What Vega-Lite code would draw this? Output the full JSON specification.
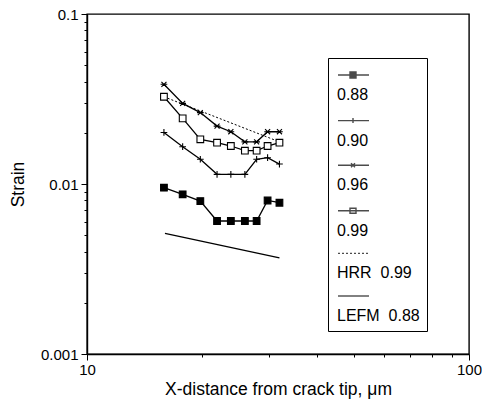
{
  "$schema": "https://vega.github.io/schema/vega-lite/v6.json",
  "width": 382,
  "height": 340,
  "autosize": "none",
  "padding": {"left": 87, "top": 14, "right": 13, "bottom": 45},
  "background": "white",
  "config": {
    "view": {"stroke": "black", "strokeWidth": 1.4},
    "font": "Liberation Sans",
    "axis": {
      "domainColor": "black", "domainWidth": 1.4, "tickColor": "black", "tickWidth": 1,
      "labelColor": "black", "titleColor": "black", "labelFont": "Liberation Sans", "titleFont": "Liberation Sans",
      "labelFontSize": 15, "titleFontSize": 17.5, "titleFontWeight": "normal", "grid": false
    }
  },
  "data": {"values": [
    {"series": "0.88", "x": 15.9, "y": 0.00951},
    {"series": "0.88", "x": 17.8, "y": 0.0087},
    {"series": "0.88", "x": 19.8, "y": 0.00794},
    {"series": "0.88", "x": 21.9, "y": 0.00606},
    {"series": "0.88", "x": 23.8, "y": 0.00606},
    {"series": "0.88", "x": 25.9, "y": 0.00606},
    {"series": "0.88", "x": 27.8, "y": 0.00606},
    {"series": "0.88", "x": 29.7, "y": 0.0080},
    {"series": "0.88", "x": 31.9, "y": 0.00776},
    {"series": "0.90", "x": 15.9, "y": 0.0201},
    {"series": "0.90", "x": 17.8, "y": 0.01657},
    {"series": "0.90", "x": 19.8, "y": 0.01398},
    {"series": "0.90", "x": 21.9, "y": 0.0114},
    {"series": "0.90", "x": 23.8, "y": 0.0114},
    {"series": "0.90", "x": 25.9, "y": 0.0114},
    {"series": "0.90", "x": 27.8, "y": 0.01398},
    {"series": "0.90", "x": 29.7, "y": 0.01428},
    {"series": "0.90", "x": 31.9, "y": 0.0131},
    {"series": "0.96", "x": 15.9, "y": 0.0386},
    {"series": "0.96", "x": 17.8, "y": 0.0298},
    {"series": "0.96", "x": 19.8, "y": 0.0263},
    {"series": "0.96", "x": 21.9, "y": 0.0219},
    {"series": "0.96", "x": 23.8, "y": 0.0203},
    {"series": "0.96", "x": 25.9, "y": 0.0177},
    {"series": "0.96", "x": 27.8, "y": 0.0177},
    {"series": "0.96", "x": 29.7, "y": 0.0203},
    {"series": "0.96", "x": 31.9, "y": 0.0203},
    {"series": "0.99", "x": 15.9, "y": 0.0326},
    {"series": "0.99", "x": 17.8, "y": 0.02434},
    {"series": "0.99", "x": 19.8, "y": 0.01832},
    {"series": "0.99", "x": 21.9, "y": 0.0175},
    {"series": "0.99", "x": 23.8, "y": 0.01673},
    {"series": "0.99", "x": 25.9, "y": 0.0157},
    {"series": "0.99", "x": 27.8, "y": 0.0157},
    {"series": "0.99", "x": 29.7, "y": 0.01673},
    {"series": "0.99", "x": 31.9, "y": 0.0175},
    {"series": "HRR\u00a0\u00a00.99", "x": 15.9, "y": 0.0326},
    {"series": "HRR\u00a0\u00a00.99", "x": 31.9, "y": 0.0177},
    {"series": "LEFM\u00a0\u00a00.88", "x": 16.0, "y": 0.00513},
    {"series": "LEFM\u00a0\u00a00.88", "x": 31.9, "y": 0.00368}
  ]},
  "encoding": {
    "x": {"field": "x", "type": "quantitative",
      "scale": {"type": "log", "domain": [10, 100], "nice": false},
      "axis": {"values": [10, 20, 30, 40, 50, 60, 70, 80, 90, 100],
        "labelExpr": "datum.value == 10 ? '10' : datum.value == 100 ? '100' : ''",
        "tickSize": {"condition": {"test": "datum.value == 10 || datum.value == 100", "value": 6}, "value": 3},
        "labelPadding": 2, "labelFlush": false, "labelOverlap": false,
        "title": "X-distance from crack tip, μm", "titlePadding": 3}},
    "y": {"field": "y", "type": "quantitative",
      "scale": {"type": "log", "domain": [0.001, 0.1], "nice": false},
      "axis": {"values": [0.001, 0.002, 0.003, 0.004, 0.005, 0.006, 0.007, 0.008, 0.009, 0.01, 0.02, 0.03, 0.04, 0.05, 0.06, 0.07, 0.08, 0.09, 0.1],
        "labelExpr": "datum.value == 0.001 ? '0.001' : datum.value == 0.01 ? '0.01' : datum.value == 0.1 ? '0.1' : ''",
        "tickSize": {"condition": {"test": "datum.value == 0.001 || datum.value == 0.01 || datum.value == 0.1", "value": 6}, "value": 3},
        "labelPadding": 3, "labelFlush": false, "labelOverlap": false,
        "title": "Strain", "titlePadding": 13}}
  },
  "resolve": {"scale": {"shape": "independent"}, "legend": {"shape": "independent"}},
  "layer": [
    {
      "transform": [{"filter": "indexof(datum.series, 'HRR') < 0"}],
      "mark": {"type": "line", "color": "black", "strokeWidth": 1.3},
      "encoding": {"detail": {"field": "series"}}
    },
    {
      "transform": [{"filter": "indexof(datum.series, 'HRR') >= 0"}],
      "mark": {"type": "line", "color": "black", "strokeWidth": 1, "strokeDash": [2, 2]},
      "encoding": {"detail": {"field": "series"}}
    },
    {
      "transform": [{"filter": "indexof(['0.88','0.90','0.96','0.99'], datum.series) >= 0"}],
      "mark": {"type": "point", "stroke": "black", "strokeWidth": 1.1, "size": 45, "opacity": 1},
      "encoding": {
        "fill": {"field": "series", "type": "nominal", "legend": null,
          "scale": {"domain": ["0.88", "0.90", "0.96", "0.99"], "range": ["black", "white", "white", "white"]}},
        "shape": {"field": "series", "type": "nominal", "legend": null,
          "scale": {"domain": ["0.88", "0.90", "0.96", "0.99"],
            "range": ["square", "M-1,0H1M0,-1V1", "M-1,0H1M-0.75,-0.75L0.75,0.75M-0.75,0.75L0.75,-0.75", "square"]}}
      }
    },
    {
      "transform": [{"filter": "datum.x < 0"}],
      "mark": {"type": "point", "color": "black", "stroke": "black", "strokeWidth": 1.1, "filled": false},
      "encoding": {
        "shape": {"field": "series", "type": "nominal",
          "scale": {"domain": ["0.88", "0.90", "0.96", "0.99", "HRR\u00a0\u00a00.99", "LEFM\u00a0\u00a00.88"],
            "range": [
              "M-5,-20H26M7,-23H13V-17H7ZM7,-22H13M7,-21H13M7,-20H13M7,-19H13M7,-18H13",
              "M-5,-20H26M10,-22.5V-17.5",
              "M-5,-20H26M8,-22L12,-18M8,-18L12,-22",
              "M-5,-20H26M7,-22.5H13V-17.5H7Z",
              "M-5,-20H-3M-1,-20H1M3,-20H5M7,-20H9M11,-20H13M15,-20H17M19,-20H21M23,-20H25",
              "M-5,-20H26"
            ]},
          "legend": {
            "title": "\u00a0", "titleFontSize": 12, "titlePadding": 10, "titleColor": "white",
            "orient": "none", "legendX": 241, "legendY": 44,
            "padding": 7, "symbolSize": 4, "labelOffset": -14, "rowPadding": 11.6,
            "symbolStrokeColor": "black", "symbolStrokeWidth": 1.4, "symbolFillColor": "transparent",
            "labelFont": "Liberation Sans", "labelFontSize": 16, "labelColor": "black",
            "strokeColor": "black", "fillColor": "white"
          }}
      }
    }
  ]
}
